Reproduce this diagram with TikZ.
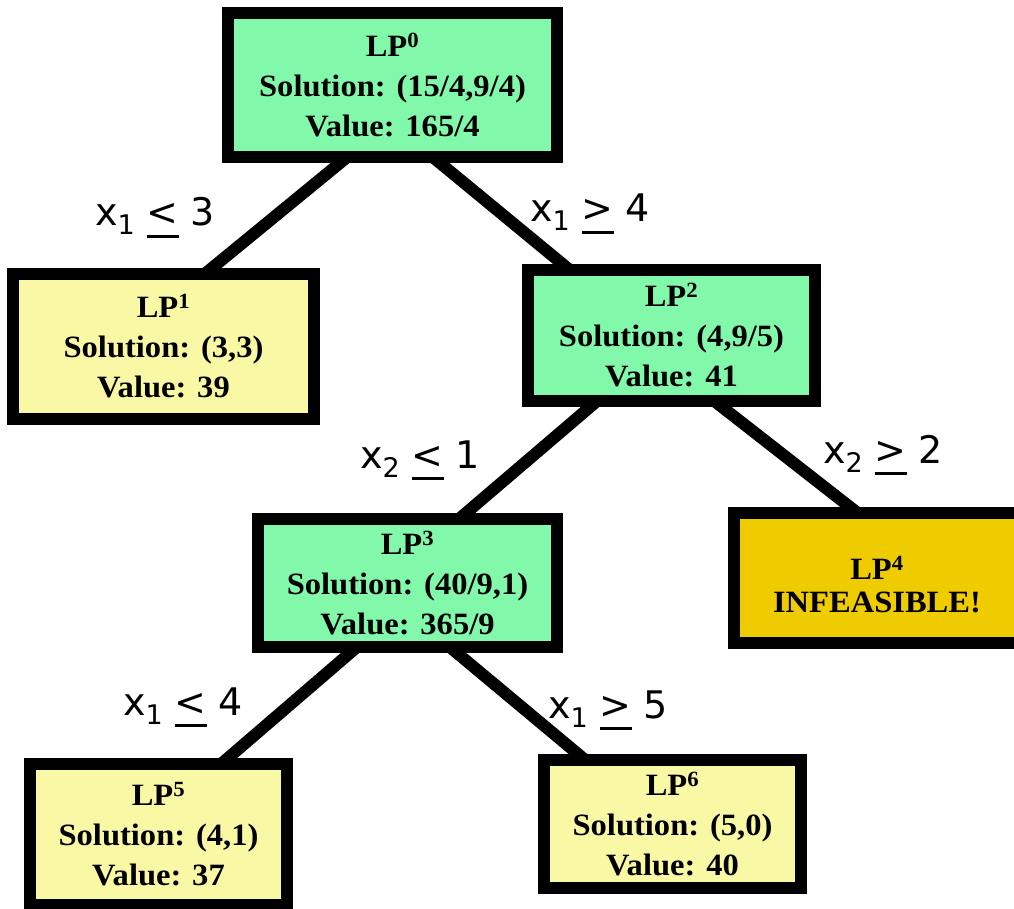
\documentclass[tikz,border=0pt]{standalone}
\usepackage{fontspec}
\setmainfont{Liberation Serif}
\newfontfamily\boxfont[FakeStretch=1.05]{Liberation Serif}
\newfontfamily\labfont{DejaVu Sans}
\usetikzlibrary{backgrounds}
\definecolor{lpgreen}{RGB}{130,249,170}
\definecolor{lpyellow}{RGB}{249,249,165}
\definecolor{lpgold}{RGB}{238,204,0}
\newcommand{\ulsym}[1]{\setbox0\hbox{#1}\rlap{\rule[-12pt]{\wd0}{3pt}}\box0\relax}
\newcommand{\blab}[3]{x\raisebox{-9pt}{\fontsize{27}{27}\selectfont #1}\ \ulsym{#2}\ #3}
\tikzset{
  lpbox/.style={draw=black, line width=12pt, inner sep=0pt, align=center,
    font=\boxfont\bfseries\fontsize{31}{40}\selectfont},
  greenbox/.style={lpbox, fill=lpgreen},
  yellowbox/.style={lpbox, fill=lpyellow},
  goldbox/.style={lpbox, fill=lpgold, text height=69pt,
    font=\boxfont\bfseries\fontsize{31}{33}\selectfont},
  conn/.style={draw=black, line width=12pt, shorten <=-8pt, shorten >=-8pt},
  brlab/.style={anchor=base west, inner sep=0pt, font=\labfont\fontsize{38}{40}\selectfont}
}
\begin{document}
\begin{tikzpicture}[x=1pt,y=-1pt]
\useasboundingbox (0,0) rectangle (1014,909);
\node[greenbox, minimum width=329pt, minimum height=144pt] (lp0) at (392.5,85)
  {LP\textsuperscript{0}\\Solution: (15/4,9/4)\\Value: 165/4};
\node[yellowbox, minimum width=301pt, minimum height=145pt] (lp1) at (163.5,346.5)
  {LP\textsuperscript{1}\\Solution: (3,3)\\Value: 39};
\node[greenbox, minimum width=287pt, minimum height=131pt] (lp2) at (671.5,335.5)
  {LP\textsuperscript{2}\\Solution: (4,9/5)\\Value: 41};
\node[greenbox, minimum width=299pt, minimum height=128pt] (lp3) at (407.5,583)
  {LP\textsuperscript{3}\\Solution: (40/9,1)\\Value: 365/9};
\node[goldbox, minimum width=286pt, minimum height=130pt] (lp4) at (877,578)
  {LP\textsuperscript{4}\\INFEASIBLE!};
\node[yellowbox, minimum width=257pt, minimum height=141pt] (lp5) at (158.5,834.5)
  {LP\textsuperscript{5}\\Solution: (4,1)\\Value: 37};
\node[yellowbox, minimum width=257pt, minimum height=128pt] (lp6) at (672.5,824)
  {LP\textsuperscript{6}\\Solution: (5,0)\\Value: 40};
\begin{scope}[on background layer]
\draw[conn] ([xshift=-52.5pt]lp0.south) -- ([xshift=48.5pt]lp1.north);
\draw[conn] ([xshift=47.5pt]lp0.south) -- ([xshift=-109pt]lp2.north);
\draw[conn] ([xshift=-81.5pt]lp2.south) -- ([xshift=58.5pt]lp3.north);
\draw[conn] ([xshift=50.5pt]lp2.south) -- ([xshift=-27pt]lp4.north);
\draw[conn] ([xshift=-57.5pt]lp3.south) -- ([xshift=69.5pt]lp5.north);
\draw[conn] ([xshift=49.5pt]lp3.south) -- ([xshift=-94.5pt]lp6.north);
\end{scope}
\node[brlab] (l1) at (95,226) {\blab{1}{<}{3}};
\node[brlab] (l2) at (530,222) {\blab{1}{>}{4}};
\node[brlab] (l3) at (360,468) {\blab{2}{<}{1}};
\node[brlab] (l4) at (823,463) {\blab{2}{>}{2}};
\node[brlab] (l5) at (123,715) {\blab{1}{<}{4}};
\node[brlab] (l6) at (548,718) {\blab{1}{>}{5}};
\end{tikzpicture}
\end{document}
